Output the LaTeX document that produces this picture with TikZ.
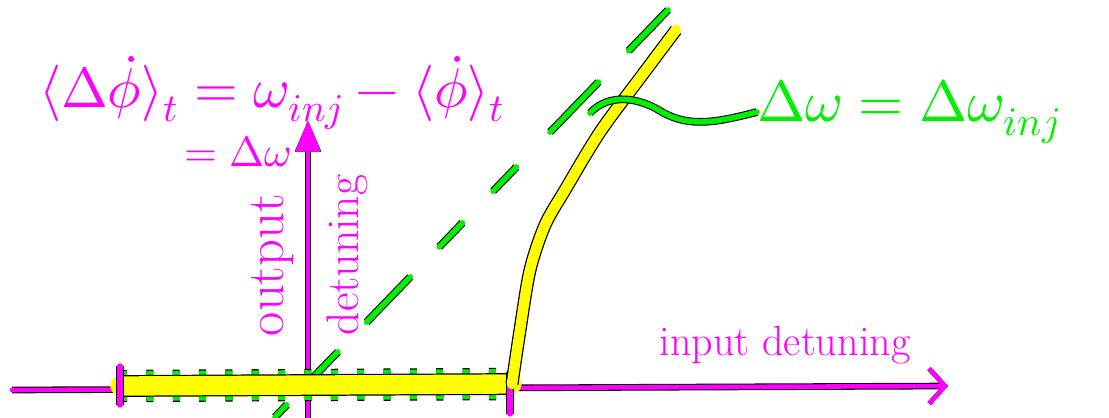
\documentclass[tikz,border=0pt]{standalone}
\usepackage{fontspec}
\usepackage{unicode-math}
\usetikzlibrary{arrows.meta,calc}
\definecolor{pen}{RGB}{255,0,255}
\definecolor{pengreen}{RGB}{0,240,0}
\definecolor{penyellow}{RGB}{255,255,0}
\tikzset{
  axis line/.style={draw=pen, line width=2.6pt, line cap=round, preaction={draw=black, line width=3.8pt}},
  tick line/.style={draw=pen, line width=3pt, line cap=round, preaction={draw=black, line width=4.2pt}},
  green line/.style={draw=pengreen, line width=3.2pt, line cap=round, preaction={draw=black, line width=4.4pt}},
  yellow band/.style={draw=penyellow, line cap=round, line join=round},
  pen text/.style={text=pen, inner sep=0pt},
  green text/.style={text=pengreen, inner sep=0pt}
}
\begin{document}
\begin{tikzpicture}[x=0.02cm, y=-0.02cm]
\useasboundingbox (0,0) rectangle (1109,417);
% axes
\coordinate (O) at (308,388);
\coordinate (xl) at (12,390);
\coordinate (xr) at (948,386);
\coordinate (yb) at (308,420);
\coordinate (yt) at (308,120);
\draw[axis line, -{Straight Barb[length=9pt, width=20pt, line width=2.6pt]}] (xl) -- (xr);
\draw[axis line, -{Triangle[length=18pt, width=14pt]}] (yb) -- (yt);
% diagonal guide (dashed by hand)
\coordinate (d1) at (275,417);
\coordinate (d2) at (668,10);
\foreach \a/\b in {0/0.03, 0.098/0.16, 0.233/0.344, 0.418/0.477, 0.555/0.614, 0.70/0.823, 0.90/1} {
  \draw[green line] ($(d1)!\a!(d2)$) -- ($(d1)!\b!(d2)$);
}
% locked range on the axis
\coordinate (lockl) at (120,386);
\coordinate (lockr) at (512,384);
\draw[green line, line cap=butt, line width=17pt, dash pattern=on 4pt off 11pt,
  preaction={draw=black, line cap=butt, line width=18.4pt, dash pattern=on 4pt off 11pt}] (lockl) -- (lockr);
\draw[yellow band, line width=11pt, preaction={draw=black, line width=12.4pt}] (lockl) -- (lockr);
\draw[tick line] (120,366) -- (120,405);
\draw[tick line] (510,372) -- (510,414);
% unlocked branch
\draw[yellow band, line width=6pt, preaction={draw=black, line width=7.4pt}]
  plot[smooth] coordinates {(lockr) (520,330) (530,270) (545,225) (565,190) (600,132) (640,78) (676,30)};
% labels
\node[pen text, font=\fontsize{32}{36}\selectfont] (rate) at (272,93)
  {$\langle\Delta\dot\phi\rangle_t=\omega_{inj}-\langle\dot\phi\rangle_t$};
\node[pen text, font=\fontsize{24}{28}\selectfont] (rateb) at (238,152) {$=\Delta\omega$};
\node[pen text, rotate=90, font=\fontsize{30}{34}\selectfont] (outlbl) at (272,265) {output};
\node[pen text, rotate=90, font=\fontsize{26}{30}\selectfont] (detlbl) at (347,255) {detuning};
\node[pen text, font=\fontsize{24}{28}\selectfont] (inlbl) at (785,345) {input detuning};
\node[green text, font=\fontsize{33}{37}\selectfont, anchor=west] (dw) at (757,112) {$\Delta\omega=\Delta\omega_{inj}$};
% pointer
\coordinate (hit) at (590,113);
\draw[green line] (hit) .. controls (610,92) and (640,98) .. (662,112) .. controls (690,128) and (718,122) .. (dw.west);
\end{tikzpicture}
\end{document}
